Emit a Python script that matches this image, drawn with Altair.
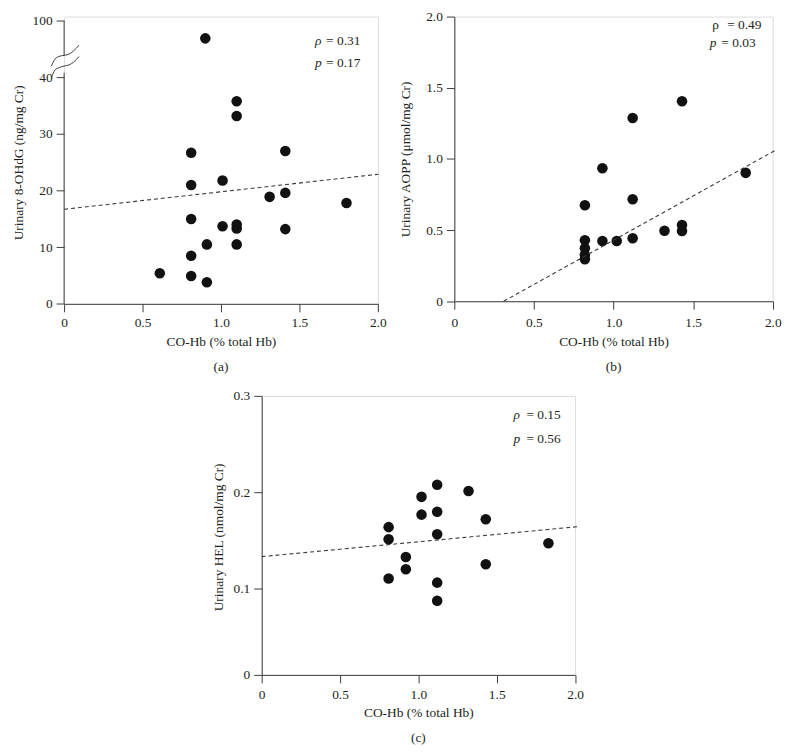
import altair as alt
import pandas as pd

FONT = "Liberation Serif"
FS = 13.5
INK = "#231f20"
AXIS = "#3c3c3c"
DOT = "#111111"

# ---------------- Panel (a): Urinary 8-OHdG ----------------
a_x = [0.61, 0.81, 0.81, 0.81, 0.81, 0.81, 0.90, 0.91, 0.91, 1.01, 1.01,
       1.10, 1.10, 1.10, 1.10, 1.10, 1.31, 1.41, 1.41, 1.41, 1.80]
a_y = [5.4, 4.9, 8.5, 15.0, 21.0, 26.7, 81.4, 10.5, 3.8, 13.7, 21.8,
       10.5, 13.3, 14.0, 33.2, 35.8, 18.9, 13.2, 19.6, 27.0, 17.8]
a_fit_x = [0.0, 2.004]
a_fit_y = [16.7, 22.9]
a_ticks = [0, 10, 20, 30, 40, 100]
a_break = 40.0          # values above this are drawn on the compressed segment
a_upper_factor = 6.0    # 40..100 squeezed into 10 display units
# axis-break decoration (display units)
wave_x = [-0.081, -0.059, -0.034, 0.0, 0.030, 0.061, 0.095]
wave1_y = [42.0, 43.2, 43.7, 43.9, 44.1, 44.7, 45.7]
wave2_y = [39.9, 41.3, 41.7, 42.0, 42.2, 42.7, 43.7]
a_axis_seg_lo = [0.0, 43.9]
a_axis_seg_hi = [40.8, 50.0]
a_stat_sym = ["ρ", "p"]
a_stat_val = ["= 0.31", "= 0.17"]
a_stat_y = [45.8, 41.8]
a_stat_x = 1.60

# ---------------- Panel (b): Urinary AOPP ----------------
b_x = [0.82, 0.82, 0.82, 0.82, 0.82, 0.93, 0.93, 1.02, 1.12, 1.12, 1.12,
       1.32, 1.43, 1.43, 1.43, 1.83]
b_y = [0.674, 0.428, 0.372, 0.326, 0.295, 0.935, 0.423, 0.423, 1.288, 0.716,
       0.442, 0.495, 1.405, 0.535, 0.493, 0.902]
b_fit_x = [0.31, 2.02]
b_fit_y = [0.0, 1.063]
b_stat_x = [1.62, 1.605]
b_stat_y = [1.916, 1.784]
b_stat_val = ["= 0.49", "= 0.03"]

# ---------------- Panel (c): Urinary HEL ----------------
c_x = [0.81, 0.81, 0.81, 0.92, 0.92, 1.02, 1.02, 1.12, 1.12, 1.12, 1.12,
       1.12, 1.32, 1.43, 1.43, 1.83]
c_y = [0.1635, 0.151, 0.110, 0.1324, 0.1198, 0.195, 0.1765, 0.2075, 0.1795,
       0.156, 0.1058, 0.0856, 0.201, 0.1717, 0.1249, 0.1468]
c_fit_x = [0.0, 2.03]
c_fit_y = [0.1328, 0.1642]
c_stat_sym = ["ρ", "p"]
c_stat_val = ["= 0.15", "= 0.56"]
c_stat_y = [0.2757, 0.2514]
c_stat_x = 1.607

x_ticks = [0, 0.5, 1.0, 1.5, 2.0]
X_TITLE = "CO-Hb (% total Hb)"
DEC_EXPR = "datum.value == 0 ? '0' : format(datum.value, '.1f')"


def disp_a(v):
    return v if v <= a_break else a_break + (v - a_break) / a_upper_factor


def x_axis(width, title_y, pad):
    return alt.Axis(values=x_ticks, labelExpr=DEC_EXPR, title=X_TITLE,
                    titleX=width / 2, titleY=title_y, titleBaseline="middle",
                    titleAlign="center", grid=False, tickSize=8, labelPadding=pad,
                    domainColor=AXIS, tickColor=AXIS, labelColor=INK,
                    titleColor=INK, labelFont=FONT, titleFont=FONT,
                    labelFontSize=FS, titleFontSize=FS, titleFontWeight="normal",
                    labelFlush=False)


def y_axis(title, values, expr, title_x, title_y, domain=True):
    return alt.Axis(values=values, labelExpr=expr, title=title,
                    titleX=title_x, titleY=title_y, titleBaseline="middle",
                    titleAlign="center", titleAngle=270, grid=False, tickSize=8,
                    labelPadding=4, domain=domain, domainColor=AXIS,
                    tickColor=AXIS, labelColor=INK, titleColor=INK,
                    labelFont=FONT, titleFont=FONT, labelFontSize=FS,
                    titleFontSize=FS, titleFontWeight="normal", labelFlush=False)


def panel_title(t):
    return alt.TitleParams(t, orient="bottom", font=FONT, fontSize=FS,
                           fontWeight="normal", color=INK, offset=12,
                           anchor="middle")


def layers(xenc, yenc, pts, fit, texts):
    dots = alt.Chart(pts).mark_circle(size=113, color=DOT, opacity=1).encode(x=xenc, y=yenc)
    line = alt.Chart(fit).mark_line(color=AXIS, strokeWidth=1.1,
                                    strokeDash=[4, 3]).encode(x=xenc, y=yenc)
    out = [dots, line]
    for df, italic, dx in texts:
        out.append(alt.Chart(df).mark_text(font=FONT, fontSize=FS,
                                           fontStyle="italic" if italic else "normal",
                                           align="left", baseline="alphabetic",
                                           color=INK, dx=dx)
                   .encode(x=xenc, y=yenc, text="t:N"))
    return out


# ----- (a) -----
AW, AH = 316, 289.3
ax_scale = alt.Scale(domain=[0, 2], nice=False, zero=False)
ay_scale = alt.Scale(domain=[0, 50.75], nice=False, zero=False)
a_tick_disp = [disp_a(v) for v in a_ticks]
a_label_expr = ("datum.value == 50 ? '100' : datum.label")
xa = alt.X("x:Q", scale=ax_scale, axis=x_axis(AW, 38.4, 4))
ya = alt.Y("y:Q", scale=ay_scale,
           axis=y_axis("Urinary 8-OHdG (ng/mg Cr)", a_tick_disp, a_label_expr,
                       -46.3, AH - 25 * 5.7, domain=False))

a_pts = pd.DataFrame({"x": a_x, "y": [disp_a(v) for v in a_y]})
a_fit = pd.DataFrame({"x": a_fit_x, "y": a_fit_y})
a_sym = pd.DataFrame({"x": [a_stat_x] * 2, "y": a_stat_y, "t": a_stat_sym})
a_val = pd.DataFrame({"x": [a_stat_x] * 2, "y": a_stat_y, "t": a_stat_val})
a_layers = layers(xa, ya, a_pts, a_fit, [(a_sym, True, 0), (a_val, False, 11)])

a_seg = pd.DataFrame({"x": [0, 0], "y": a_axis_seg_lo, "y2": a_axis_seg_hi})
a_layers.append(alt.Chart(a_seg).mark_rule(color=AXIS, strokeWidth=1)
                .encode(x=xa, y=ya, y2="y2:Q"))
waves = pd.DataFrame({"x": wave_x * 2, "y": wave1_y + wave2_y,
                      "g": ["w1"] * len(wave_x) + ["w2"] * len(wave_x)})
a_layers.append(alt.Chart(waves).mark_line(color=AXIS, strokeWidth=1,
                                           interpolate="monotone")
                .encode(x=xa, y=ya, detail="g:N"))
chart_a = alt.layer(*a_layers).properties(width=AW, height=AH,
                                          title=panel_title("(a)"))

# ----- (b) -----
BW, BH = 320.7, 286.7
bx_scale = alt.Scale(domain=[0, 2], nice=False, zero=False)
by_scale = alt.Scale(domain=[0, 2], nice=False, zero=False)
xb = alt.X("x:Q", scale=bx_scale, axis=x_axis(BW, 41, 6.6))
yb = alt.Y("y:Q", scale=by_scale,
           axis=y_axis("Urinary AOPP (μmol/mg Cr)", [0, 0.5, 1.0, 1.5, 2.0],
                       DEC_EXPR, -49.3, BH / 2))
b_pts = pd.DataFrame({"x": b_x, "y": b_y})
b_fit = pd.DataFrame({"x": b_fit_x, "y": b_fit_y})
b_rho = pd.DataFrame({"x": [b_stat_x[0]], "y": [b_stat_y[0]], "t": ["ρ"]})
b_p = pd.DataFrame({"x": [b_stat_x[1]], "y": [b_stat_y[1]], "t": ["p"]})
b_v1 = pd.DataFrame({"x": [b_stat_x[0]], "y": [b_stat_y[0]], "t": [b_stat_val[0]]})
b_v2 = pd.DataFrame({"x": [b_stat_x[1]], "y": [b_stat_y[1]], "t": [b_stat_val[1]]})
b_layers = layers(xb, yb, b_pts, b_fit,
                  [(b_rho, False, 0), (b_p, True, 0), (b_v1, False, 15), (b_v2, False, 11.5)])
chart_b = alt.layer(*b_layers).properties(width=BW, height=BH,
                                          title=panel_title("(b)"))

# ----- (c) -----
CW, CH = 315.6, 281
cx_scale = alt.Scale(domain=[0, 2], nice=False, zero=False)
cy_scale = alt.Scale(domain=[0, 0.1, 0.3], range=[CH, CH - 87.3, 0], nice=False, zero=False)
xc = alt.X("x:Q", scale=cx_scale, axis=x_axis(CW, 38.3, 4.6))
yc = alt.Y("y:Q", scale=cy_scale,
           axis=y_axis("Urinary HEL (nmol/mg Cr)", [0, 0.1, 0.2, 0.3],
                       DEC_EXPR, -43.7, CH / 2 + 1.5))
c_pts = pd.DataFrame({"x": c_x, "y": c_y})
c_fit = pd.DataFrame({"x": c_fit_x, "y": c_fit_y})
c_sym = pd.DataFrame({"x": [c_stat_x] * 2, "y": c_stat_y, "t": c_stat_sym})
c_val = pd.DataFrame({"x": [c_stat_x] * 2, "y": c_stat_y, "t": c_stat_val})
c_layers = layers(xc, yc, c_pts, c_fit, [(c_sym, True, 0), (c_val, False, 13)])
chart_c = alt.layer(*c_layers).properties(width=CW, height=CH,
                                          title=panel_title("(c)"))

spacer = alt.Chart(pd.DataFrame({"v": [0]})).mark_rule(
    color="white", strokeWidth=4).encode(
    x=alt.value(0.5), y=alt.value(-1), y2=alt.value(2)).properties(width=1, height=1)

row1 = alt.hconcat(chart_a, chart_b, spacing=11)
row2 = alt.hconcat(spacer, chart_c, spacing=144)
chart = (alt.vconcat(row1, row2, spacing=13)
         .properties(padding={"left": 2.5, "top": -2, "right": 0, "bottom": 0})
         .configure_view(stroke="transparent", strokeWidth=0)
         .configure(background="white"))

chart.save("out.html", embed_options={"renderer": "svg", "actions": False})
